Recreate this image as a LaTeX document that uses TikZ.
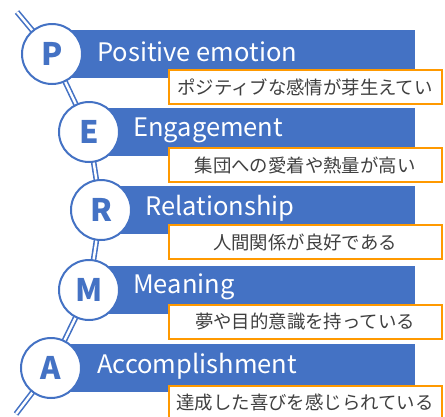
\documentclass[tikz,border=0pt]{standalone}
\usepackage{fontspec}
\setmainfont{Noto Sans CJK JP}
\usetikzlibrary{backgrounds}
\definecolor{permblue}{HTML}{4472C4}
\definecolor{permorange}{HTML}{FF9900}
\definecolor{permgray}{HTML}{404040}
\tikzset{
    letter/.style = {circle, draw = permblue, line width = 2, fill = white,
        minimum size = 60, inner sep = 0, text = permblue,
        font = \bfseries\fontsize{31}{31}\selectfont},
    bar/.style = {fill = permblue, minimum height = 48, inner sep = 0, anchor = west},
    title/.style = {anchor = west, text = white, inner sep = 0,
        font = \fontsize{25.5}{25.5}\selectfont},
    note/.style = {draw = permorange, line width = 2, fill = white,
        minimum width = 273, minimum height = 34, inner sep = 0, text = permgray,
        font = \fontsize{18.4}{18.4}\selectfont},
    link/.style = {draw = permblue, line width = 1.6, double = white, double distance = 2.4}
}
\begin{document}
\begin{tikzpicture}[x = 1pt, y = -1pt]
        \clip (0, 0) rectangle (445, 416);
        \coordinate (top) at (17, 12);
        \coordinate (bottom) at (16, 414);

        \node [letter] (p) at (52, 54) {P};
        \node [letter] (e) at (89, 132) {E};
        \node [letter] (r) at (101, 210) {R};
        \node [letter] (m) at (89, 290) {M};
        \node [letter] (a) at (51, 368) {A};

        \begin{scope}[on background layer]
            \draw [link] (top) -- (p.center) -- (e.center) -- (r.center)
                -- (m.center) -- (a.center) -- (bottom);
            \node [bar, minimum width = 363] (pbar) at (p.center) {};
            \node [bar, minimum width = 326] (ebar) at (e.center) {};
            \node [bar, minimum width = 314] (rbar) at (r.center) {};
            \node [bar, minimum width = 326] (mbar) at (m.center) {};
            \node [bar, minimum width = 364] (abar) at (a.center) {};
        \end{scope}

        \node [title] (ptitle) at (97, 52) {Positive emotion};
        \node [title] (etitle) at (133, 130) {Engagement};
        \node [title] (rtitle) at (145, 208) {Relationship};
        \node [title] (mtitle) at (133, 287) {Meaning};
        \node [title] (atitle) at (97, 366) {Accomplishment};

        \node [note] (pnote) at (305, 87) {ポジティブな感情が芽生えてい};
        \node [note] (enote) at (305, 165) {集団への愛着や熱量が高い};
        \node [note] (rnote) at (305, 242) {人間関係が良好である};
        \node [note] (mnote) at (305, 322) {夢や目的意識を持っている};
        \node [note] (anote) at (305, 403) {達成した喜びを感じられている};
    \end{tikzpicture}
\end{document}
